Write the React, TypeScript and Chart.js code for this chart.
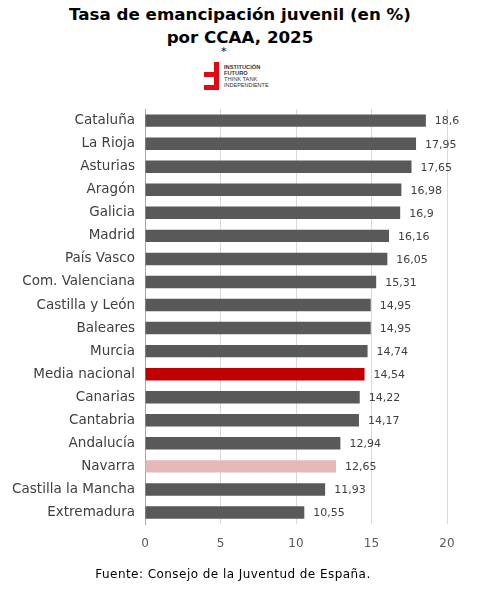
import React, { useEffect, useRef } from "react";
import { Chart, registerables } from "chart.js";

Chart.register(...registerables);

const categories = [
  "Cataluña", "La Rioja", "Asturias", "Aragón", "Galicia", "Madrid", "País Vasco",
  "Com. Valenciana", "Castilla y León", "Baleares", "Murcia", "Media nacional",
  "Canarias", "Cantabria", "Andalucía", "Navarra", "Castilla la Mancha", "Extremadura",
];
const values = [18.6, 17.95, 17.65, 16.98, 16.9, 16.16, 16.05, 15.31, 14.95, 14.95, 14.74, 14.54, 14.22, 14.17, 12.94, 12.65, 11.93, 10.55];
const valueLabels = ["18,6", "17,95", "17,65", "16,98", "16,9", "16,16", "16,05", "15,31", "14,95", "14,95", "14,74", "14,54", "14,22", "14,17", "12,94", "12,65", "11,93", "10,55"];
const xTicks = [0, 5, 10, 15, 20];

const FONT = "'DejaVu Sans', sans-serif";

export default function App() {
  const ref = useRef<HTMLCanvasElement | null>(null);
  useEffect(() => {
    if (!ref.current) return;
    const colors = categories.map((c) =>
      c === "Media nacional" ? "#C00000" : c === "Navarra" ? "#E6B8B7" : "#595959"
    );
    const labelPlugin = {
      id: "valueLabels",
      afterDatasetsDraw(chart: any) {
        const ctx = chart.ctx;
        const meta = chart.getDatasetMeta(0);
        ctx.save();
        ctx.font = `11px ${FONT}`;
        ctx.fillStyle = "#404040";
        ctx.textAlign = "left";
        ctx.textBaseline = "middle";
        meta.data.forEach((el: any, i: number) => {
          ctx.fillText(valueLabels[i], el.x + 9, el.y + 1);
        });
        ctx.restore();
      },
    };
    const chart = new Chart(ref.current, {
      type: "bar",
      data: {
        labels: categories,
        datasets: [
          {
            data: values,
            backgroundColor: colors,
            barPercentage: 0.54,
            categoryPercentage: 1,
          },
        ],
      },
      options: {
        indexAxis: "y",
        animation: false,
        responsive: false,
        devicePixelRatio: 1,
        layout: { padding: { top: 8, right: 33, left: 0, bottom: 0 } },
        plugins: { legend: { display: false }, tooltip: { enabled: false } },
        scales: {
          x: {
            min: 0,
            max: 20,
            afterBuildTicks(scale: any) {
              scale.ticks = xTicks.map((v) => ({ value: v }));
            },
            afterFit(scale: any) {
              scale.height = 42;
            },
            grid: { color: "#D9D9D9", drawTicks: false, lineWidth: 1 },
            border: { display: false },
            ticks: { color: "#595959", font: { family: FONT, size: 12 }, padding: 13 },
          },
          y: {
            afterFit(scale: any) {
              scale.width = 145;
            },
            grid: { display: false, drawTicks: false },
            border: { display: true, color: "#A6A6A6", width: 1 },
            ticks: { color: "#404040", font: { family: FONT, size: 13.5 }, padding: 10 },
          },
        },
      },
      plugins: [labelPlugin],
    });
    return () => chart.destroy();
  }, []);

  return (
    <div style={{ position: "fixed", left: 0, top: 0, width: 480, height: 589, background: "#fff", fontFamily: FONT }}>
      <div style={{ position: "absolute", top: 3, left: 0, width: 480, textAlign: "center", fontWeight: "bold", fontSize: 16.7, lineHeight: "23px", color: "#000" }}>
        Tasa de emancipación juvenil (en %)
        <br />
        por CCAA, 2025
      </div>
      <div style={{ position: "absolute", top: 45, left: 221, fontSize: 11, color: "#000" }}>*</div>
      <svg style={{ position: "absolute", left: 203, top: 61 }} width={75} height={31}>
        <path d="M11 1 H16 V29 H1 V24 H11 V16 H1 V11 H11 Z" fill="#E30613" />
        <text x={21} y={8} fontSize={5.7} fontWeight="bold" fill="#333" fontFamily="'Liberation Sans', sans-serif">INSTITUCIÓN</text>
        <text x={21} y={14} fontSize={5.7} fontWeight="bold" fill="#333" fontFamily="'Liberation Sans', sans-serif">FUTURO</text>
        <text x={21} y={20} fontSize={5.7} fill="#333" fontFamily="'Liberation Sans', sans-serif">THINK TANK</text>
        <text x={21} y={26} fontSize={5.5} fill="#333" fontFamily="'Liberation Sans', sans-serif">INDEPENDIENTE</text>
      </svg>
      <canvas ref={ref} width={480} height={475} style={{ position: "absolute", left: 0, top: 91, width: 480, height: 475 }} />
      <div style={{ position: "absolute", top: 567, left: -7, width: 480, textAlign: "center", fontSize: 12, color: "#000", letterSpacing: 0.45 }}>
        Fuente: Consejo de la Juventud de España.
      </div>
    </div>
  );
}
